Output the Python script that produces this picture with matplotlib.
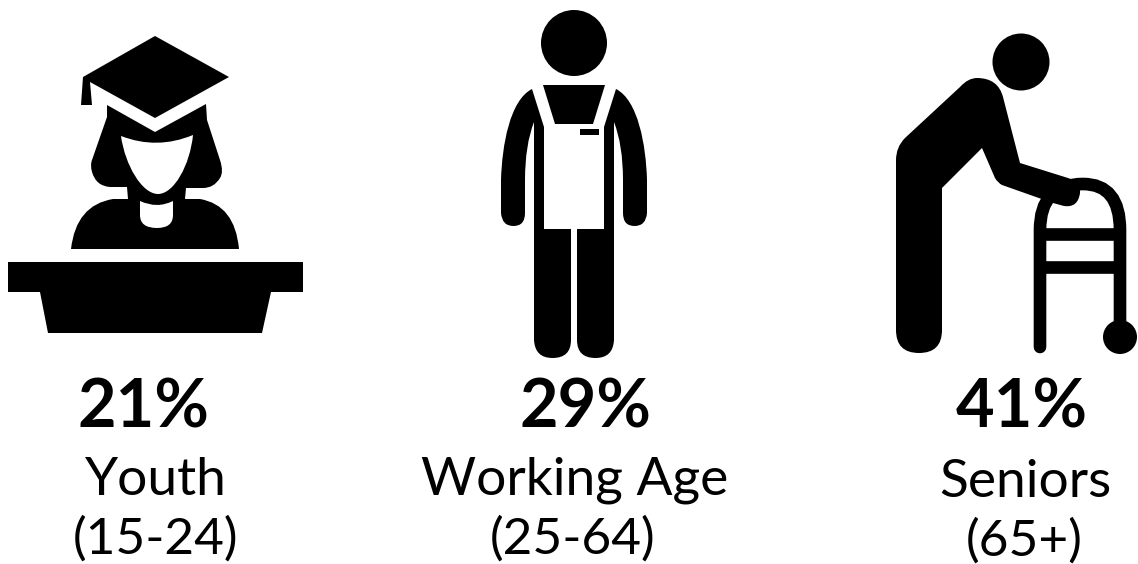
import matplotlib
matplotlib.use("Agg")
import matplotlib.pyplot as plt
from matplotlib.path import Path
from matplotlib.patches import PathPatch, Circle, Polygon

# Values from the picture
groups = ["Youth", "Working Age", "Seniors"]
ages = ["(15-24)", "(25-64)", "(65+)"]
shares = [21, 29, 41]

plt.rcParams["font.family"] = ["Lato", "DejaVu Sans"]

fig = plt.figure(figsize=(11.38, 5.64), dpi=100)
ax = fig.add_axes([0, 0, 1, 1])
ax.set_xlim(0, 1138)
ax.set_ylim(564, 0)
ax.axis("off")


def shape(spec, color="black", **kw):
    # small svg-like path: (x, y) = line, 4 numbers = quadratic, 6 numbers = cubic
    verts = [spec[0]]
    codes = [Path.MOVETO]
    for s in spec[1:]:
        if len(s) == 2:
            verts.append(s)
            codes.append(Path.LINETO)
        elif len(s) == 4:
            verts += [s[:2], s[2:]]
            codes += [Path.CURVE3] * 2
        else:
            verts += [s[:2], s[2:4], s[4:]]
            codes += [Path.CURVE4] * 3
    p = PathPatch(Path(verts, codes), facecolor=color, edgecolor="none", **kw)
    ax.add_patch(p)
    return p


# --- Youth icon ---
ax.add_patch(Polygon([(155, 36), (229, 77), (155, 118), (90, 82), (92, 105), (81, 105), (83, 77)], color="black", lw=0))
shape([(107, 105), (155, 132), (206, 104), (207, 120), (220, 160),
       (224, 172, 220, 178), (214, 188, 203, 188), (186, 188), (185, 199), (200, 199),
       (235, 205, 239, 249), (71, 249), (76, 205, 113, 199), (128, 199), (127, 187),
       (110, 187), (96, 186, 92, 172), (90, 165, 92, 160), (107, 117)])
shape([(121, 136), (157, 150, 193, 135), (190, 165, 174, 194, 158, 194), (142, 194, 125, 165, 121, 136)], color="white")
shape([(140, 201), (157, 209, 173, 201), (173, 215), (173, 228, 157, 228), (140, 228, 140, 215)], color="white")
ax.add_patch(Polygon([(8, 262), (303, 262), (303, 292), (271, 292), (262, 333),
                      (48, 333), (40, 292), (8, 292)], color="black", lw=0))

# --- Working age icon ---
ax.add_patch(Circle((574, 43), 33, color="black", lw=0))
ax.add_patch(Polygon([(543, 85), (605, 85), (593, 124), (555, 124)], color="black", lw=0))
ax.add_patch(Polygon([(580, 129), (599, 129), (599, 135), (580, 135)], color="black", lw=0))
for sign in [1, -1]:
    mx = lambda x: 574 + sign * (x - 574)
    shape([(mx(532), 89), (mx(510), 100, mx(502), 145, mx(501), 180), (mx(501), 213),
           (mx(502), 226, mx(513.5), 226), (mx(525), 226, mx(525), 213), (mx(525), 180),
           (mx(525), 145, mx(534), 122), (mx(534), 340),
           (mx(535), 358, mx(552.5), 358), (mx(571), 358, mx(571), 340),
           (mx(571), 229), (mx(544), 229), (mx(544), 127)])

# --- Seniors icon ---
ax.add_patch(Circle((1021, 62), 28.5, color="black", lw=0))
walker = dict(color="black", lw=9.1, solid_capstyle="butt")
frame = Path([(1040, 347), (1040, 230), (1040, 184), (1083, 184), (1120, 184), (1120, 230), (1120, 337)],
             [Path.MOVETO, Path.LINETO, Path.CURVE3, Path.CURVE3, Path.CURVE3, Path.CURVE3, Path.LINETO])
ax.add_patch(PathPatch(frame, facecolor="none", edgecolor="black", lw=9.1, capstyle="round"))
ax.plot([1040, 1120], [234, 234], **walker)
ax.plot([1040, 1120], [267, 267], **walker)
ax.add_patch(Circle((1120, 337), 17, color="black", lw=0))
shape([(896, 330), (896, 160), (896, 147, 905, 138), (960, 87), (968, 78, 977, 78),
       (998, 78, 1003, 97), (1020, 163), (1068, 178), (1081, 182, 1080, 193),
       (1078, 208, 1064, 206), (1053, 203), (1002, 185), (998, 183, 995, 178),
       (982, 148), (942, 188), (942, 330), (942, 353, 919, 353), (896, 353, 896, 330)])

# --- Labels ---
share_x = [144, 586, 1022]
group_x = [156, 574.5, 1025.5]
age_x = [155.5, 573, 1024]
text_y = [(428, 495, 554), (428, 495, 554), (428, 497, 556)]
for i in range(3):
    ax.text(share_x[i], text_y[i][0], f"{shares[i]}%", ha="center", va="baseline", fontsize=48, fontweight="bold")
    ax.text(group_x[i], text_y[i][1], groups[i], ha="center", va="baseline", fontsize=38.3)
    ax.text(age_x[i], text_y[i][2], ages[i], ha="center", va="baseline", fontsize=37)

fig.savefig("out.png", dpi=100)
